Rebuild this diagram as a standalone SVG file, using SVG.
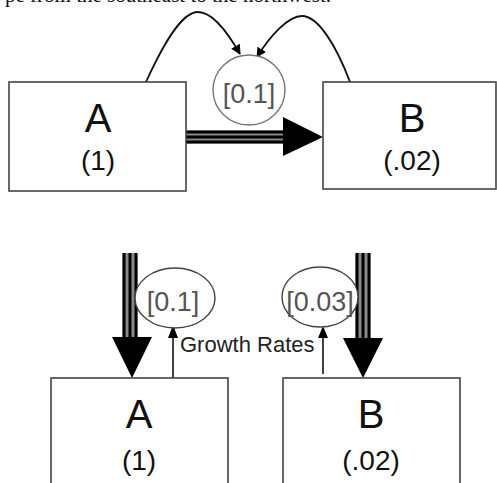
<svg xmlns="http://www.w3.org/2000/svg" width="497" height="483" viewBox="0 0 497 483">
  <style>
    .box { fill: #fff; stroke: #444; stroke-width: 1.6; }
    .big { font-family: "Liberation Sans", Arial, sans-serif; font-size: 40px; fill: #111; text-anchor: middle; }
    .sub { font-family: "Liberation Sans", Arial, sans-serif; font-size: 28px; fill: #111; text-anchor: middle; }
    .lbl { font-family: "Liberation Sans", Arial, sans-serif; font-size: 27px; fill: #555; text-anchor: middle; }
    .ell { fill: #fff; stroke: #444; stroke-width: 1.4; }
    .thin { fill: none; stroke: #111; stroke-width: 1.8; }
    .tri { stroke: #000; stroke-width: 3; }
    .trigap { stroke: #888; }
    .head { fill: #000; }
  </style>
  <defs>
    <marker id="sm" viewBox="0 0 10 10" refX="9" refY="5" markerWidth="10" markerHeight="10" orient="auto" markerUnits="userSpaceOnUse">
      <path d="M0,0 L10,5 L0,10 Z" fill="#000"/>
    </marker>
  </defs>

  <text x="5" y="2" font-family="'Liberation Serif', 'Times New Roman', serif" font-size="21" fill="#111">pe from the southeast to the northwest.</text>

  <g id="connectors">
    <path class="thin" d="M146,82 C166,38 183,12 198,12 C212,12 228,33 240,54" marker-end="url(#sm)"/>
    <path class="thin" d="M350,82 C336,45 318,16 302,16 C288,16 270,36 257,57" marker-end="url(#sm)"/>
    <line class="trigap" x1="186" y1="137" x2="284" y2="137" stroke-width="13"/>
    <line class="tri" x1="186" y1="132" x2="284" y2="132"/>
    <line class="tri" x1="186" y1="137" x2="284" y2="137"/>
    <line class="tri" x1="186" y1="142" x2="284" y2="142"/>
    <path class="head" d="M283,117 L323,137 L283,156 Z"/>
    <line class="trigap" x1="130" y1="253" x2="130" y2="338" stroke-width="15"/>
    <line class="tri" x1="124" y1="253" x2="124" y2="338"/>
    <line class="tri" x1="130" y1="253" x2="130" y2="338"/>
    <line class="tri" x1="136" y1="253" x2="136" y2="338"/>
    <path class="head" d="M112,337 L152,337 L132,378 Z"/>
    <line class="trigap" x1="363" y1="253" x2="363" y2="338" stroke-width="15"/>
    <line class="tri" x1="357" y1="253" x2="357" y2="338"/>
    <line class="tri" x1="363" y1="253" x2="363" y2="338"/>
    <line class="tri" x1="369" y1="253" x2="369" y2="338"/>
    <path class="head" d="M343,338 L383,338 L363,378 Z"/>
    <line x1="173" y1="378" x2="173" y2="337" stroke="#111" stroke-width="1.6"/>
    <path class="head" d="M173,325 L178,338 L168,338 Z"/>
    <line x1="323" y1="374" x2="323" y2="337" stroke="#111" stroke-width="1.6"/>
    <path class="head" d="M323,326 L328,338 L318,338 Z"/>
  </g>

  <g id="rate-top">
    <ellipse cx="249" cy="90" rx="36" ry="35" fill="#fff" stroke="#777" stroke-width="1.4"/>
    <text class="lbl" x="249" y="103">[0.1]</text>
  </g>

  <g id="A-top">
    <rect class="box" x="9" y="82" width="177" height="109"/>
    <text class="big" x="98" y="132">A</text>
    <text class="sub" x="98" y="170">(1)</text>
  </g>

  <g id="B-top">
    <rect class="box" x="323" y="82" width="173" height="107"/>
    <text class="big" x="412" y="132">B</text>
    <text class="sub" x="412" y="170">(.02)</text>
  </g>

  <g id="rate-A">
    <ellipse class="ell" cx="175" cy="298" rx="40" ry="30"/>
    <text class="lbl" x="173" y="311">[0.1]</text>
  </g>

  <g id="rate-B">
    <ellipse class="ell" cx="320" cy="297" rx="38" ry="30"/>
    <text class="lbl" x="320" y="311">[0.03]</text>
  </g>

  <text x="180" y="352" font-family="'Liberation Sans', Arial, sans-serif" font-size="22" fill="#222">Growth Rates</text>

  <g id="A-bottom">
    <rect class="box" x="51" y="378" width="177" height="120"/>
    <text class="big" x="139" y="428">A</text>
    <text class="sub" x="139" y="470">(1)</text>
  </g>

  <g id="B-bottom">
    <rect class="box" x="283" y="378" width="177" height="120"/>
    <text class="big" x="371" y="428">B</text>
    <text class="sub" x="371" y="470">(.02)</text>
  </g>
</svg>
